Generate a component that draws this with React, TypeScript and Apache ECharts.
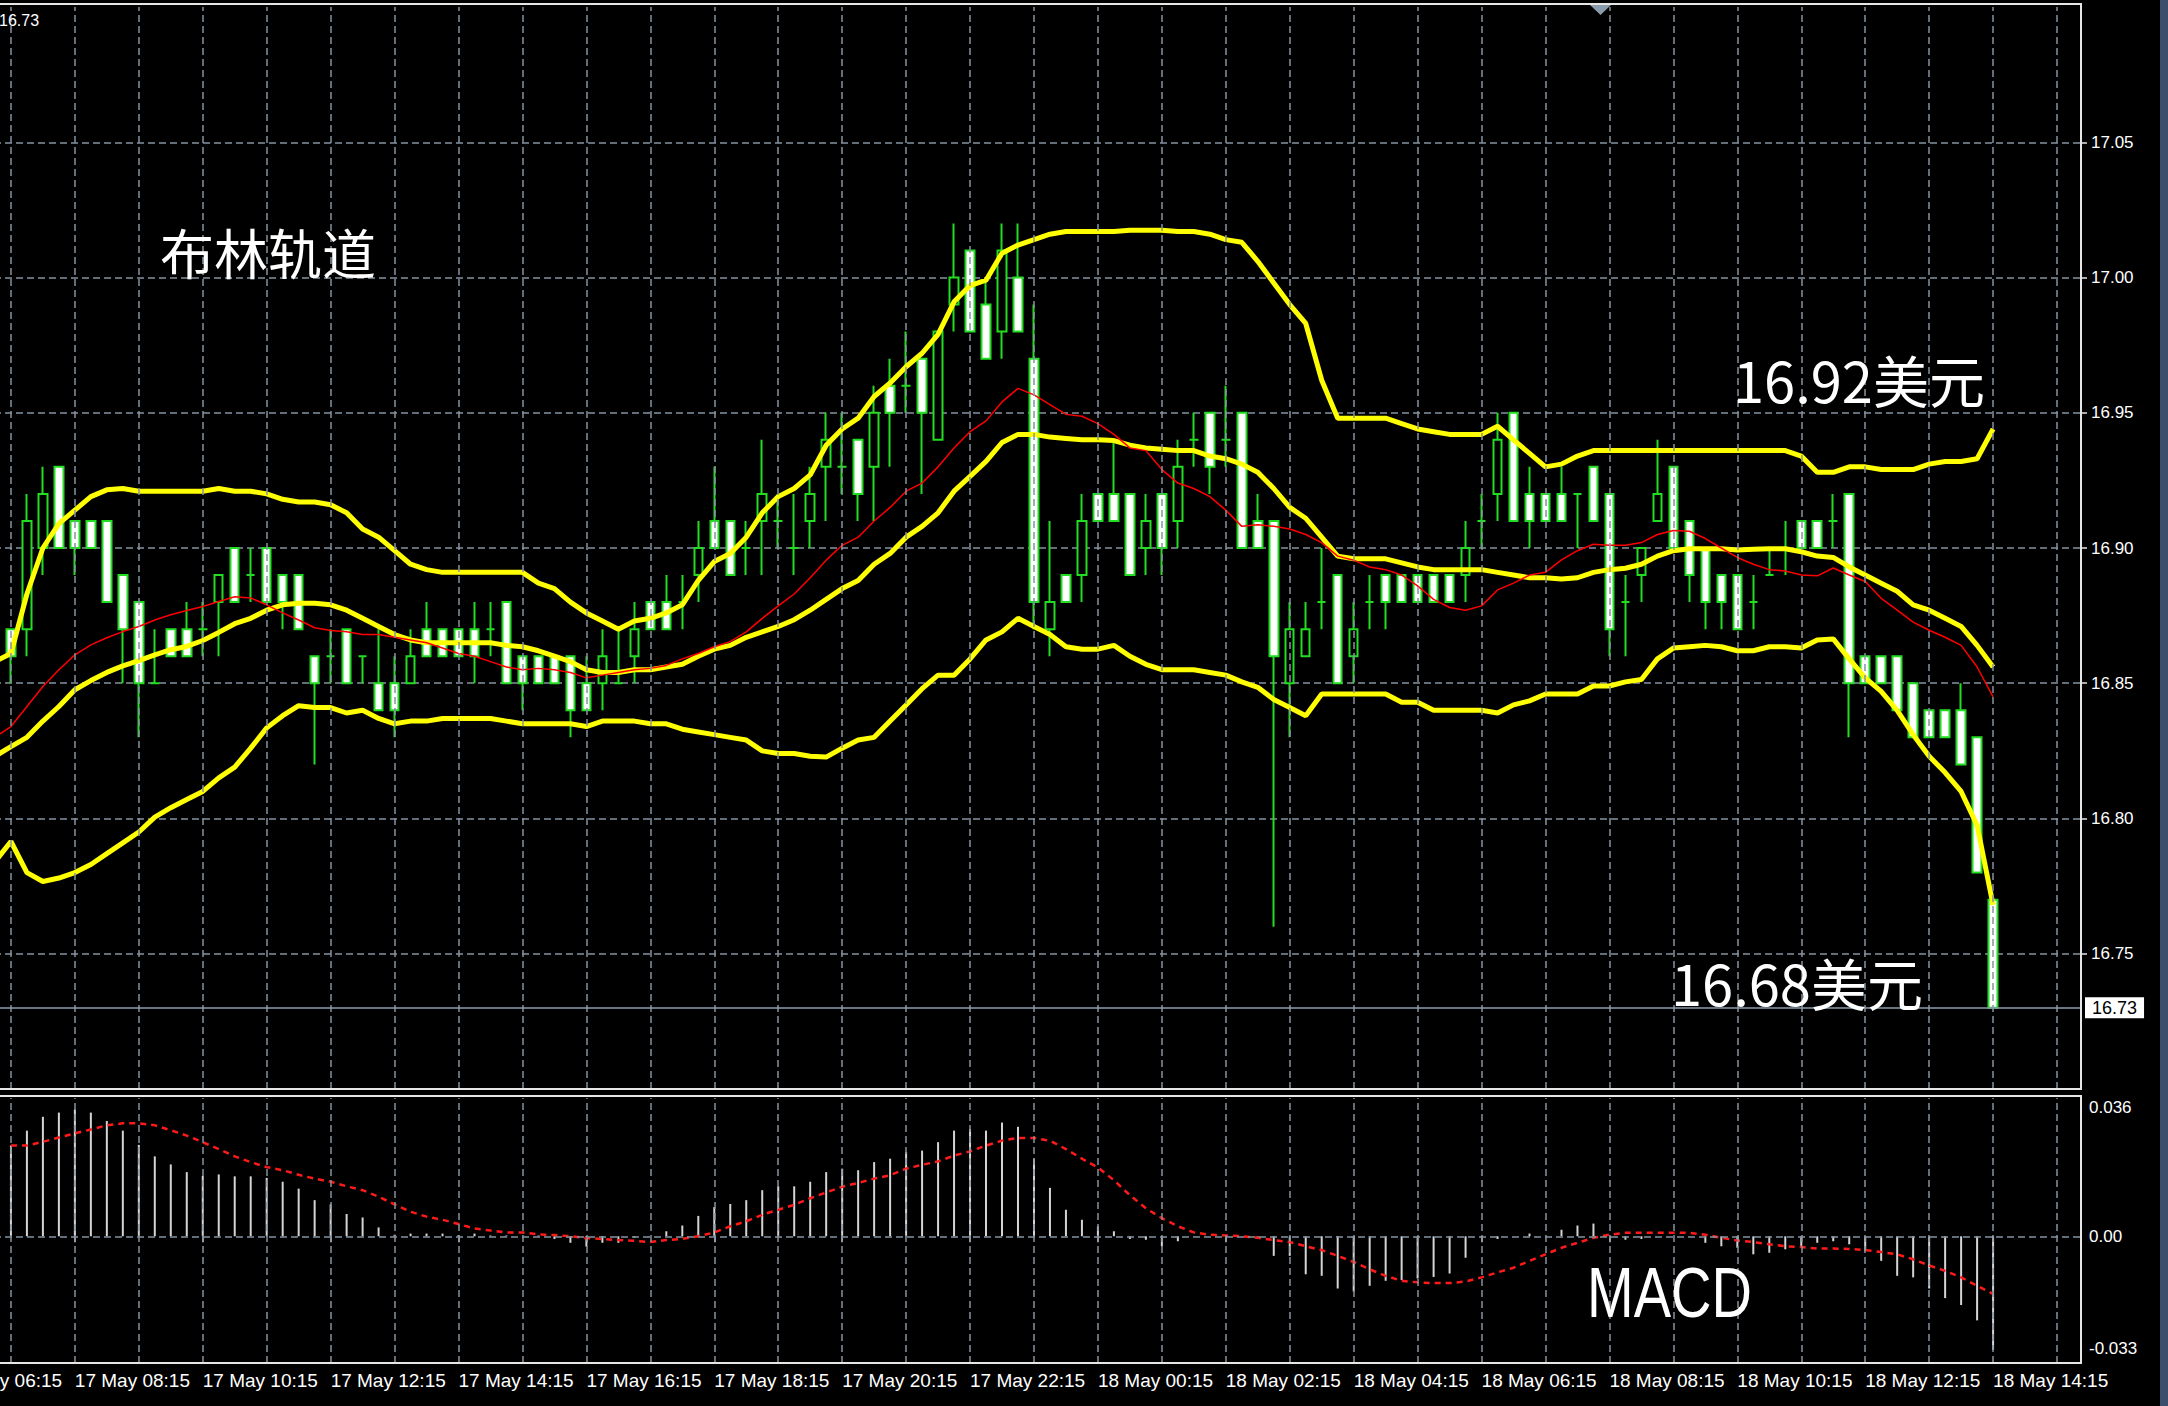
import React, { useEffect, useRef } from "react";
import * as echarts from "echarts";

// ---------- tick labels ----------
const timeTickLabels = [
  "17 May 06:15", "17 May 08:15", "17 May 10:15", "17 May 12:15", "17 May 14:15",
  "17 May 16:15", "17 May 18:15", "17 May 20:15", "17 May 22:15", "18 May 00:15",
  "18 May 02:15", "18 May 04:15", "18 May 06:15", "18 May 08:15", "18 May 10:15",
  "18 May 12:15", "18 May 14:15",
];
const priceTicks = [16.75, 16.8, 16.85, 16.9, 16.95, 17.0, 17.05];
const macdLabelAt = [-0.0293, 0, 0.0334];
const macdLabelText = ["-0.033", "0.00", "0.036"];

// ---------- candles (M15, 17 May 07:15 … 18 May 14:15) ----------
const candleOpen = [
  16.87, 16.87, 16.90, 16.93, 16.91, 16.91, 16.91, 16.89, 16.88, 16.85,
  16.87, 16.87, 16.87, 16.88, 16.90, 16.89, 16.90, 16.89, 16.89, 16.86,
  16.86, 16.87, 16.86, 16.85, 16.85, 16.85, 16.87, 16.87, 16.87, 16.87,
  16.87, 16.88, 16.86, 16.86, 16.86, 16.86, 16.85, 16.85, 16.85, 16.86,
  16.88, 16.88, 16.88, 16.89, 16.91, 16.91, 16.90, 16.91, 16.91, 16.90,
  16.91, 16.93, 16.93, 16.94, 16.93, 16.96, 16.96, 16.97, 16.94, 16.99,
  17.01, 16.99, 16.98, 17.00, 16.97, 16.87, 16.89, 16.89, 16.92, 16.92,
  16.92, 16.90, 16.92, 16.91, 16.94, 16.95, 16.94, 16.95, 16.91, 16.91,
  16.85, 16.86, 16.88, 16.89, 16.86, 16.88, 16.89, 16.89, 16.89, 16.89,
  16.89, 16.89, 16.91, 16.92, 16.95, 16.92, 16.92, 16.92, 16.92, 16.93,
  16.92, 16.88, 16.89, 16.91, 16.93, 16.91, 16.90, 16.89, 16.89, 16.88,
  16.89, 16.90, 16.91, 16.91, 16.91, 16.92, 16.86, 16.86, 16.86, 16.85,
  16.84, 16.84, 16.84, 16.83, 16.77,
];
const candleHigh = [
  16.87, 16.92, 16.93, 16.93, 16.91, 16.91, 16.91, 16.89, 16.88, 16.87,
  16.87, 16.88, 16.88, 16.89, 16.90, 16.90, 16.90, 16.89, 16.89, 16.86,
  16.87, 16.87, 16.86, 16.87, 16.86, 16.87, 16.88, 16.87, 16.87, 16.88,
  16.88, 16.88, 16.86, 16.86, 16.86, 16.86, 16.86, 16.87, 16.87, 16.88,
  16.88, 16.89, 16.89, 16.91, 16.93, 16.91, 16.91, 16.94, 16.92, 16.92,
  16.93, 16.95, 16.95, 16.94, 16.96, 16.97, 16.98, 16.97, 16.98, 17.02,
  17.01, 17.00, 17.02, 17.02, 16.99, 16.91, 16.89, 16.92, 16.92, 16.94,
  16.92, 16.92, 16.92, 16.94, 16.95, 16.95, 16.96, 16.95, 16.92, 16.91,
  16.88, 16.88, 16.90, 16.89, 16.88, 16.89, 16.89, 16.89, 16.89, 16.89,
  16.89, 16.91, 16.92, 16.95, 16.95, 16.93, 16.92, 16.93, 16.92, 16.93,
  16.92, 16.89, 16.90, 16.94, 16.93, 16.91, 16.90, 16.89, 16.89, 16.89,
  16.90, 16.91, 16.91, 16.91, 16.92, 16.92, 16.86, 16.86, 16.86, 16.85,
  16.84, 16.84, 16.85, 16.83, 16.77,
];
const candleLow = [
  16.85, 16.86, 16.89, 16.90, 16.89, 16.90, 16.88, 16.85, 16.83, 16.85,
  16.86, 16.86, 16.86, 16.86, 16.88, 16.88, 16.88, 16.87, 16.87, 16.82,
  16.85, 16.85, 16.85, 16.84, 16.83, 16.85, 16.86, 16.86, 16.86, 16.85,
  16.86, 16.85, 16.84, 16.85, 16.85, 16.83, 16.84, 16.84, 16.85, 16.85,
  16.87, 16.87, 16.87, 16.88, 16.90, 16.89, 16.89, 16.89, 16.90, 16.89,
  16.90, 16.91, 16.92, 16.91, 16.91, 16.93, 16.95, 16.92, 16.94, 16.98,
  16.98, 16.97, 16.97, 16.98, 16.87, 16.86, 16.88, 16.88, 16.91, 16.91,
  16.89, 16.89, 16.89, 16.90, 16.93, 16.92, 16.93, 16.90, 16.90, 16.76,
  16.83, 16.86, 16.87, 16.85, 16.85, 16.87, 16.87, 16.88, 16.88, 16.88,
  16.88, 16.88, 16.90, 16.91, 16.91, 16.90, 16.91, 16.91, 16.90, 16.91,
  16.86, 16.86, 16.88, 16.91, 16.90, 16.88, 16.87, 16.87, 16.87, 16.87,
  16.89, 16.89, 16.90, 16.90, 16.90, 16.83, 16.85, 16.85, 16.84, 16.83,
  16.83, 16.83, 16.82, 16.78, 16.73,
];
const candleClose = [
  16.86, 16.91, 16.92, 16.90, 16.90, 16.90, 16.88, 16.87, 16.85, 16.85,
  16.86, 16.86, 16.87, 16.89, 16.88, 16.89, 16.88, 16.88, 16.87, 16.85,
  16.86, 16.85, 16.86, 16.84, 16.84, 16.86, 16.86, 16.86, 16.86, 16.86,
  16.87, 16.85, 16.85, 16.85, 16.85, 16.84, 16.84, 16.86, 16.85, 16.87,
  16.87, 16.87, 16.88, 16.90, 16.90, 16.89, 16.90, 16.92, 16.91, 16.90,
  16.92, 16.94, 16.93, 16.92, 16.95, 16.95, 16.96, 16.95, 16.98, 17.00,
  16.98, 16.97, 17.01, 16.98, 16.88, 16.88, 16.88, 16.91, 16.91, 16.91,
  16.89, 16.91, 16.90, 16.93, 16.94, 16.93, 16.94, 16.90, 16.90, 16.86,
  16.87, 16.87, 16.88, 16.85, 16.87, 16.88, 16.88, 16.88, 16.88, 16.88,
  16.88, 16.90, 16.91, 16.94, 16.91, 16.91, 16.91, 16.91, 16.92, 16.91,
  16.87, 16.88, 16.90, 16.92, 16.90, 16.89, 16.88, 16.88, 16.87, 16.88,
  16.89, 16.90, 16.90, 16.90, 16.91, 16.85, 16.85, 16.85, 16.84, 16.83,
  16.83, 16.83, 16.82, 16.78, 16.73,
];

// ---------- indicator lines (start one bar earlier: 17 May 07:00) ----------
const bbUpper = [
  16.858, 16.861, 16.883, 16.900, 16.909, 16.914, 16.919, 16.9215, 16.922, 16.921, 16.921,
  16.921, 16.921, 16.921, 16.922, 16.921, 16.921, 16.920, 16.918, 16.917, 16.917,
  16.916, 16.913, 16.907, 16.904, 16.899, 16.894, 16.892, 16.891, 16.891, 16.891,
  16.891, 16.891, 16.891, 16.887, 16.885, 16.880, 16.876, 16.873, 16.870, 16.873,
  16.874, 16.876, 16.879, 16.888, 16.895, 16.898, 16.904, 16.913, 16.919, 16.922,
  16.927, 16.938, 16.944, 16.948, 16.956, 16.961, 16.967, 16.972, 16.979, 16.991,
  16.997, 16.999, 17.009, 17.012, 17.014, 17.016, 17.017, 17.017, 17.017, 17.017,
  17.0175, 17.0175, 17.0175, 17.017, 17.017, 17.016, 17.014, 17.013, 17.006, 16.998,
  16.990, 16.983, 16.962, 16.948, 16.948, 16.948, 16.948, 16.946, 16.944, 16.943,
  16.942, 16.942, 16.942, 16.945, 16.940, 16.935, 16.930, 16.931, 16.934, 16.936,
  16.936, 16.936, 16.936, 16.936, 16.936, 16.936, 16.936, 16.936, 16.936, 16.936,
  16.936, 16.936, 16.934, 16.928, 16.928, 16.930, 16.930, 16.929, 16.929, 16.929,
  16.931, 16.932, 16.932, 16.933, 16.944,
];
const bbMiddle = [
  16.823, 16.8266, 16.830, 16.836, 16.8414, 16.8476, 16.851, 16.854, 16.8564, 16.8584, 16.8605,
  16.8624, 16.8636, 16.8658, 16.8688, 16.872, 16.874, 16.877, 16.879, 16.8796, 16.8796,
  16.879, 16.877, 16.874, 16.871, 16.868, 16.866, 16.865, 16.865, 16.865, 16.865,
  16.865, 16.864, 16.8635, 16.862, 16.860, 16.858, 16.855, 16.854, 16.854, 16.855,
  16.855, 16.856, 16.857, 16.860, 16.8626, 16.864, 16.867, 16.869, 16.871, 16.8735,
  16.877, 16.881, 16.885, 16.888, 16.894, 16.898, 16.904, 16.908, 16.913, 16.921,
  16.9265, 16.932, 16.939, 16.942, 16.942, 16.941, 16.9405, 16.940, 16.940, 16.9397,
  16.938, 16.937, 16.9365, 16.936, 16.936, 16.934, 16.933, 16.931, 16.928, 16.922,
  16.915, 16.911, 16.904, 16.897, 16.896, 16.896, 16.896, 16.8945, 16.893, 16.892,
  16.892, 16.892, 16.892, 16.891, 16.890, 16.889, 16.889, 16.8885, 16.889, 16.891,
  16.892, 16.8925, 16.894, 16.897, 16.899, 16.8997, 16.8997, 16.8997, 16.8993, 16.8995,
  16.8997, 16.8997, 16.8986, 16.897, 16.8965, 16.893, 16.890, 16.887, 16.884, 16.879,
  16.877, 16.874, 16.871, 16.864, 16.856,
];
const bbLower = [
  16.784, 16.7915, 16.780, 16.7767, 16.778, 16.780, 16.783, 16.787, 16.791, 16.795, 16.8005,
  16.804, 16.807, 16.810, 16.815, 16.819, 16.826, 16.8335, 16.838, 16.8417, 16.841,
  16.841, 16.839, 16.840, 16.837, 16.835, 16.836, 16.836, 16.837, 16.837, 16.837,
  16.837, 16.836, 16.835, 16.835, 16.835, 16.835, 16.834, 16.836, 16.836, 16.836,
  16.835, 16.835, 16.833, 16.832, 16.831, 16.830, 16.829, 16.825, 16.824, 16.824,
  16.823, 16.8227, 16.826, 16.829, 16.830, 16.836, 16.842, 16.848, 16.853, 16.853,
  16.859, 16.866, 16.869, 16.874, 16.871, 16.868, 16.8635, 16.8626, 16.8626, 16.864,
  16.860, 16.857, 16.855, 16.855, 16.855, 16.854, 16.853, 16.8505, 16.8485, 16.844,
  16.841, 16.838, 16.846, 16.846, 16.846, 16.846, 16.846, 16.843, 16.843, 16.840,
  16.840, 16.840, 16.840, 16.839, 16.842, 16.8435, 16.846, 16.846, 16.846, 16.849,
  16.849, 16.8505, 16.8514, 16.859, 16.863, 16.8635, 16.864, 16.8635, 16.862, 16.862,
  16.8635, 16.8635, 16.863, 16.866, 16.8664, 16.859, 16.852, 16.847, 16.840, 16.831,
  16.823, 16.817, 16.810, 16.7975, 16.768,
];
const maRed = [
  16.830, 16.834, 16.8414, 16.8488, 16.855, 16.8605, 16.8642, 16.8668, 16.8691, 16.871, 16.8734,
  16.8753, 16.8769, 16.8784, 16.8802, 16.882, 16.8815, 16.879, 16.876, 16.8734, 16.8705,
  16.8695, 16.869, 16.868, 16.868, 16.867, 16.866, 16.865, 16.863, 16.861, 16.860,
  16.858, 16.856, 16.855, 16.8555, 16.855, 16.854, 16.852, 16.853, 16.854, 16.855,
  16.8555, 16.8566, 16.859, 16.861, 16.8635, 16.8654, 16.869, 16.874, 16.8786, 16.883,
  16.889, 16.8955, 16.901, 16.904, 16.910, 16.915, 16.921, 16.924, 16.930, 16.937,
  16.943, 16.947, 16.954, 16.959, 16.9566, 16.953, 16.9494, 16.9487, 16.946, 16.942,
  16.937, 16.936, 16.929, 16.924, 16.922, 16.919, 16.914, 16.908, 16.9086, 16.908,
  16.907, 16.905, 16.902, 16.897, 16.8955, 16.893, 16.892, 16.890, 16.886, 16.881,
  16.878, 16.877, 16.8786, 16.8845, 16.887, 16.890, 16.891, 16.8956, 16.899, 16.9014,
  16.901, 16.901, 16.902, 16.905, 16.9065, 16.9062, 16.9035, 16.900, 16.8965, 16.894,
  16.892, 16.8915, 16.890, 16.8897, 16.8926, 16.890, 16.8876, 16.8814, 16.877, 16.8726,
  16.8696, 16.867, 16.864, 16.856, 16.845,
];

// ---------- MACD (same bars as the candles) ----------
const macdHist = [
  0.0236, 0.0275, 0.0311, 0.0322, 0.0330, 0.0322, 0.0300, 0.0275, 0.0238, 0.0208,
  0.0187, 0.0167, 0.0157, 0.0161, 0.0156, 0.0156, 0.0152, 0.0142, 0.0124, 0.0094,
  0.0083, 0.0058, 0.0049, 0.0023, 0.0004, 0.0007, 0.0007, 0.0007, 0.0003, 0.0007,
  0.0002, 0.0002, 0.0000, 0.0002, -0.0007, -0.0017, -0.0027, -0.0017, -0.0017, -0.0004,
  0.0000, 0.0013, 0.0028, 0.0053, 0.0076, 0.0084, 0.0094, 0.0120, 0.0130, 0.0130,
  0.0142, 0.0167, 0.0176, 0.0172, 0.0193, 0.0202, 0.0219, 0.0223, 0.0245, 0.0275,
  0.0279, 0.0275, 0.0296, 0.0285, 0.0202, 0.0126, 0.0069, 0.0043, 0.0026, 0.0013,
  -0.0007, -0.0009, -0.0026, -0.0013, 0.0000, 0.0000, 0.0000, 0.0000, -0.0007, -0.0051,
  -0.0051, -0.0099, -0.0103, -0.0136, -0.0144, -0.0129, -0.0116, -0.0114, -0.0110, -0.0106,
  -0.0097, -0.0056, -0.0004, -0.0007, 0.0000, 0.0007, 0.0000, 0.0017, 0.0028, 0.0033,
  0.0000, -0.0009, -0.0007, 0.0000, 0.0000, 0.0000, -0.0017, -0.0026, -0.0030, -0.0047,
  -0.0043, -0.0034, -0.0026, -0.0017, -0.0013, -0.0021, -0.0039, -0.0064, -0.0103, -0.0107,
  -0.0136, -0.0161, -0.0179, -0.0219, -0.0296,
];
const macdSignal = [
  0.0236, 0.0236, 0.0246, 0.0257, 0.0268, 0.0278, 0.0289, 0.0294, 0.0294, 0.0289,
  0.0276, 0.0262, 0.0245, 0.0227, 0.0208, 0.0193, 0.0180, 0.0172, 0.0160, 0.0150,
  0.0142, 0.0130, 0.0120, 0.0103, 0.0083, 0.0064, 0.0051, 0.0043, 0.0032, 0.0020,
  0.0015, 0.0010, 0.0010, 0.0005, 0.0003, 0.0000, -0.0005, -0.0007, -0.0010, -0.0012,
  -0.0015, -0.0010, -0.0007, 0.0000, 0.0010, 0.0026, 0.0039, 0.0056, 0.0069, 0.0082,
  0.0099, 0.0114, 0.0129, 0.0139, 0.0150, 0.0159, 0.0176, 0.0186, 0.0195, 0.0210,
  0.0221, 0.0236, 0.0249, 0.0256, 0.0256, 0.0249, 0.0227, 0.0202, 0.0179, 0.0146,
  0.0107, 0.0073, 0.0047, 0.0026, 0.0010, 0.0004, 0.0002, 0.0000, -0.0004, -0.0010,
  -0.0015, -0.0026, -0.0036, -0.0051, -0.0067, -0.0086, -0.0103, -0.0116, -0.0120, -0.0122,
  -0.0122, -0.0118, -0.0107, -0.0094, -0.0082, -0.0064, -0.0047, -0.0030, -0.0017, -0.0004,
  0.0004, 0.0009, 0.0009, 0.0009, 0.0009, 0.0009, 0.0004, -0.0004, -0.0011, -0.0015,
  -0.0021, -0.0026, -0.0028, -0.0032, -0.0032, -0.0033, -0.0036, -0.0041, -0.0047, -0.0060,
  -0.0076, -0.0090, -0.0107, -0.0129, -0.0150,
];

// ---------- layout of slots ----------
const LEAD = 4; // empty slots before first candle (06:15 … 07:00)
const TAIL = 5; // chart shift on the right
const N = LEAD + candleOpen.length + TAIL;
const LINE_START = LEAD - 1;
const categories = Array.from({ length: N }, (_, i) => String(i));

const pad = (arr: number[], start: number) =>
  categories.map((_, i) => {
    const j = i - start;
    return j >= 0 && j < arr.length ? arr[j] : "-";
  });

const candleData = categories.map((_, i) => {
  const k = i - LEAD;
  return k >= 0 && k < candleOpen.length
    ? [candleOpen[k], candleClose[k], candleLow[k], candleHigh[k]]
    : "-";
});
const lastClose = candleClose[candleClose.length - 1];

const LABEL_FONT = "'Liberation Sans', Arial, sans-serif";
const CJK_FONT = "'Noto Sans CJK SC', 'Noto Sans', sans-serif";
const gridLine = { color: "#8593a1", type: [7, 4] as any, width: 1.5 };
const vLines = categories
  .map((_, i) => i)
  .filter((i) => i % 4 === 0)
  .map((i) => ({ xAxis: i }));

const GRID_LEFT = -61;
const GRID_W = 2142;

const option: any = {
  backgroundColor: "#000000",
  animation: false,
  grid: [
    { left: GRID_LEFT, width: GRID_W, top: 7, height: 1082, outerBoundsMode: "none", containLabel: false },
    { left: GRID_LEFT, width: GRID_W, top: 1098, height: 265, outerBoundsMode: "none", containLabel: false },
  ],
  xAxis: [
    {
      type: "category",
      gridIndex: 0,
      data: categories,
      boundaryGap: true,
      axisLine: { show: false },
      axisTick: { show: false },
      axisLabel: { show: false },
      splitLine: { show: false },
    },
    {
      type: "category",
      gridIndex: 1,
      data: categories,
      boundaryGap: true,
      axisLine: { show: false },
      axisTick: {
        show: true,
        alignWithLabel: true,
        interval: (i: number) => i % 8 === 0,
        length: 6,
        lineStyle: { color: "#e6e6e6", width: 1.5 },
      },
      axisLabel: {
        show: true,
        interval: (i: number) => i % 8 === 0,
        formatter: (_v: string, i: number) => timeTickLabels[i / 8] ?? "",
        color: "#ffffff",
        fontSize: 19,
        fontFamily: LABEL_FONT,
        align: "left",
        margin: 8,
      },
      splitLine: { show: false },
    },
  ],
  yAxis: [
    {
      type: "value",
      gridIndex: 0,
      position: "right",
      min: 16.7,
      max: 17.1,
      interval: 0.05,
      axisLine: { show: false },
      axisTick: {
        show: true,
        customValues: priceTicks,
        length: 6,
        lineStyle: { color: "#e6e6e6", width: 1.5 },
      },
      axisLabel: {
        customValues: priceTicks,
        formatter: (v: number) => v.toFixed(2),
        color: "#ffffff",
        fontSize: 17,
        fontFamily: LABEL_FONT,
        margin: 10,
      },
      splitLine: { show: true, lineStyle: gridLine },
    },
    {
      type: "value",
      gridIndex: 1,
      position: "right",
      min: -0.033,
      max: 0.036,
      axisLine: { show: false },
      axisTick: { show: false },
      splitLine: { show: false },
      axisLabel: {
        customValues: macdLabelAt,
        formatter: (v: number) => {
          const idx = macdLabelAt.findIndex((m) => Math.abs(m - v) < 1e-6);
          return idx >= 0 ? macdLabelText[idx] : "";
        },
        color: "#ffffff",
        fontSize: 17,
        fontFamily: LABEL_FONT,
        margin: 8,
      },
    },
  ],
  series: [
    {
      name: "grid-main",
      type: "line",
      xAxisIndex: 0,
      yAxisIndex: 0,
      data: categories.map(() => "-"),
      z: 1,
      silent: true,
      markLine: {
        silent: true,
        symbol: ["none", "none"],
        label: { show: false },
        lineStyle: gridLine,
        data: vLines,
      },
    },
    {
      name: "XAGUSD M15",
      type: "candlestick",
      xAxisIndex: 0,
      yAxisIndex: 0,
      data: candleData,
      barWidth: 9,
      z: 2,
      itemStyle: {
        color: "#000000",
        color0: "#ffffff",
        borderColor: "#22dd22",
        borderColor0: "#22dd22",
        borderColorDoji: "#22dd22",
        borderWidth: 2,
      },
      markLine: {
        silent: true,
        symbol: ["none", "none"],
        data: [{ yAxis: lastClose }],
        lineStyle: { color: "#8d9cab", type: "solid", width: 1.5 },
        label: {
          show: true,
          position: "end",
          formatter: lastClose.toFixed(2),
          color: "#000000",
          backgroundColor: "#ffffff",
          padding: [2, 7, 1, 7],
          fontSize: 18,
          fontFamily: LABEL_FONT,
          distance: 4,
        },
      },
    },
    ...[bbUpper, bbMiddle, bbLower].map((arr, n) => ({
      name: ["BB upper", "BB middle", "BB lower"][n],
      type: "line",
      xAxisIndex: 0,
      yAxisIndex: 0,
      data: pad(arr, LINE_START),
      symbol: "none",
      z: 3,
      silent: true,
      lineStyle: { color: "#ffff00", width: 5 },
    })),
    {
      name: "MA",
      type: "line",
      xAxisIndex: 0,
      yAxisIndex: 0,
      data: pad(maRed, LINE_START),
      symbol: "none",
      z: 4,
      silent: true,
      lineStyle: { color: "#ff0000", width: 1.5 },
    },
    {
      name: "grid-macd",
      type: "line",
      xAxisIndex: 1,
      yAxisIndex: 1,
      data: categories.map(() => "-"),
      z: 1,
      silent: true,
      markLine: {
        silent: true,
        symbol: ["none", "none"],
        label: { show: false },
        lineStyle: gridLine,
        data: [...vLines, { yAxis: 0 }],
      },
    },
    {
      name: "MACD",
      type: "bar",
      xAxisIndex: 1,
      yAxisIndex: 1,
      data: pad(macdHist, LEAD),
      barWidth: 2,
      z: 2,
      silent: true,
      itemStyle: { color: "#d4d4d4" },
    },
    {
      name: "Signal",
      type: "line",
      xAxisIndex: 1,
      yAxisIndex: 1,
      data: pad(macdSignal, LEAD),
      symbol: "none",
      z: 3,
      silent: true,
      lineStyle: { color: "#ff1a1a", width: 2.5, type: [6, 5] },
    },
  ],
  graphic: [
    {
      type: "rect",
      silent: true,
      z: 100,
      shape: { x: -10, y: 4, width: 2091, height: 1085 },
      style: { fill: "none", stroke: "#e6e6e6", lineWidth: 2 },
    },
    {
      type: "rect",
      silent: true,
      z: 100,
      shape: { x: -10, y: 1096, width: 2091, height: 267 },
      style: { fill: "none", stroke: "#e6e6e6", lineWidth: 2 },
    },
    {
      type: "polygon",
      silent: true,
      z: 100,
      shape: { points: [[1590, 5], [1611, 5], [1600.5, 15]] },
      style: { fill: "#8a9bab" },
    },
    {
      type: "rect",
      silent: true,
      z: 100,
      shape: { x: 2160, y: 0, width: 8, height: 1406 },
      style: { fill: "#3b4e6c" },
    },
    {
      type: "text",
      silent: true,
      z: 100,
      x: -1,
      y: 12,
      style: { text: "16.73", fill: "#ffffff", fontSize: 16, fontFamily: LABEL_FONT, align: "left", verticalAlign: "top" },
    },
    {
      type: "text",
      silent: true,
      z: 100,
      x: 160,
      y: 224,
      style: { text: "布林轨道", fill: "#ffffff", fontSize: 54, fontFamily: CJK_FONT, align: "left", verticalAlign: "top" },
    },
    {
      type: "text",
      silent: true,
      z: 100,
      x: 1733,
      y: 350,
      style: { text: "16.92美元", fill: "#ffffff", fontSize: 56, fontFamily: CJK_FONT, align: "left", verticalAlign: "top" },
    },
    {
      type: "text",
      silent: true,
      z: 100,
      x: 1671,
      y: 953,
      style: { text: "16.68美元", fill: "#ffffff", fontSize: 56, fontFamily: CJK_FONT, align: "left", verticalAlign: "top" },
    },
    {
      type: "text",
      silent: true,
      z: 100,
      x: 1587,
      y: 1258,
      scaleX: 0.8,
      style: { text: "MACD", fill: "#ffffff", fontSize: 70, fontFamily: LABEL_FONT, align: "left", verticalAlign: "top" },
    },
  ],
};

export default function App() {
  const ref = useRef<HTMLDivElement>(null);
  useEffect(() => {
    if (!ref.current) return;
    const chart = echarts.init(ref.current, null, { renderer: "svg" });
    chart.setOption(option);
    return () => chart.dispose();
  }, []);
  return (
    <div
      ref={ref}
      style={{ position: "fixed", left: 0, top: 0, width: 2168, height: 1406, background: "#000000" }}
    />
  );
}
